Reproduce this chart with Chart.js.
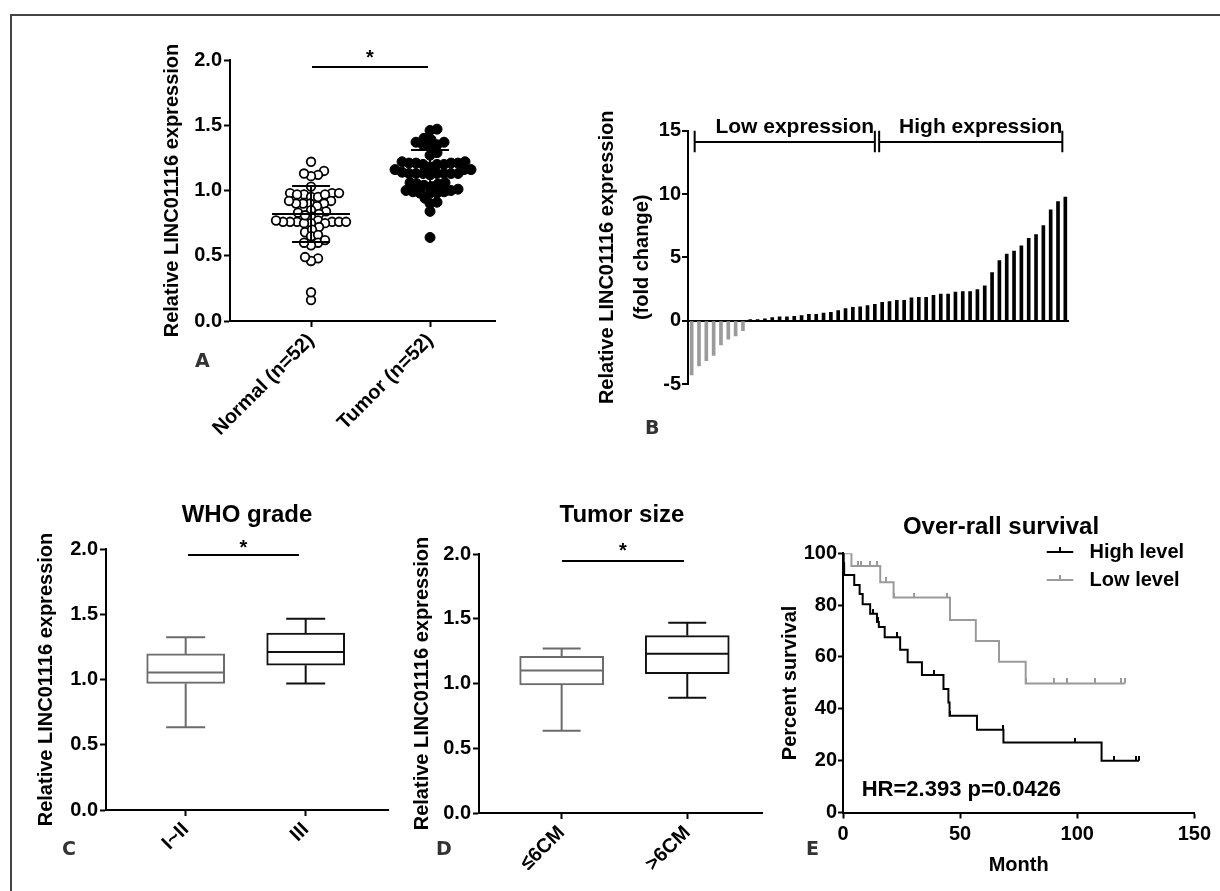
<!DOCTYPE html>
<html>
<head>
<meta charset="utf-8">
<script src="https://cdn.jsdelivr.net/npm/chart.js@4.4.0/dist/chart.umd.min.js"></script>
<style>
  body { margin: 0; width: 1220px; height: 891px; overflow: hidden; position: relative; background: #fff;
         font-family: 'Liberation Sans', Arial, sans-serif; }
  .frame { position: absolute; left: 10px; top: 14px; width: 1230px; height: 900px;
           border-left: 2px solid #444; border-top: 2px solid #444; }
  canvas { position: absolute; }
  .title { position: absolute; font-weight: bold; font-size: 24px; line-height: 1; white-space: nowrap;
           transform: translate(-50%, -50%); }
  .tag { position: absolute; font-family: 'DejaVu Sans', sans-serif; font-weight: bold; font-size: 19px; line-height: 1; color: #333; }
</style>
</head>
<body>
<div class="frame"></div>

<canvas id="chartA" width="355" height="420" style="left:150px;top:30px"></canvas>
<canvas id="chartB" width="485" height="360" style="left:590px;top:80px"></canvas>
<canvas id="chartC" width="374" height="380" style="left:24px;top:490px"></canvas>
<canvas id="chartD" width="372" height="380" style="left:400px;top:490px"></canvas>
<canvas id="chartE" width="447" height="390" style="left:768px;top:490px"></canvas>

<div class="title" style="left:247px;top:514px">WHO grade</div>
<div class="title" style="left:622px;top:514px">Tumor size</div>
<div class="title" style="left:1001px;top:526px">Over-rall survival</div>

<div class="tag" style="left:195px;top:351px">A</div>
<div class="tag" style="left:645px;top:418px">B</div>
<div class="tag" style="left:62px;top:839px">C</div>
<div class="tag" style="left:436px;top:839px">D</div>
<div class="tag" style="left:806px;top:839px">E</div>

<script>
// ---- panel A: scatter of relative expression
const groupsA = ['Normal (n=52)', 'Tumor (n=52)'];
const normalVals = [1.22, 1.15, 1.12, 1.11, 1.13, 1.03,
  0.97, 0.95, 0.98, 0.98, 0.98, 0.95, 0.97, 0.97,
  0.92, 0.90, 0.90, 0.90, 0.90, 0.92, 0.88,
  0.85, 0.83, 0.84, 0.80, 0.82,
  0.77, 0.76, 0.75, 0.76, 0.75, 0.76, 0.76, 0.75, 0.76, 0.76, 0.77,
  0.72, 0.68, 0.70, 0.65, 0.66, 0.60, 0.58, 0.60, 0.62,
  0.48, 0.46, 0.49, 0.16, 0.22, 0.81];
const tumorVals = [1.47, 1.46, 1.40, 1.39, 1.37, 1.35, 1.34, 1.35, 1.37, 1.29, 1.27,
  1.20, 1.21, 1.21, 1.20, 1.22, 1.21, 1.20, 1.21, 1.22,
  1.13, 1.13, 1.14, 1.12, 1.13, 1.13, 1.13, 1.13, 1.13, 1.16, 1.16, 1.16,
  1.06, 1.05, 1.05, 1.06, 1.03, 1.04,
  1.00, 0.98, 0.98, 0.98, 0.99, 0.99, 1.00, 1.01,
  0.90, 0.91, 0.94, 0.84, 0.64, 1.18];
const meanA = [0.82, 1.14];
const sdA = [0.215, 0.17];

// ---- panel B: fold change per sample (sorted)
const foldChange = [-4.29, -3.58, -3.16, -2.74, -1.92, -1.47, -1.21, -0.79,
  0.03, 0.05, 0.15, 0.25, 0.3, 0.3, 0.35, 0.4, 0.5, 0.5, 0.6, 0.65, 0.8, 0.95, 1.05, 1.1, 1.2, 1.3,
  1.45, 1.5, 1.6, 1.6, 1.8, 1.85, 1.85, 2.0, 2.1, 2.1, 2.25, 2.3, 2.3, 2.45, 2.75,
  3.8, 4.75, 5.25, 5.5, 5.9, 6.5, 6.8, 7.5, 8.75, 9.4, 9.75];
const samplesB = foldChange.map((v, i) => 'S' + (i + 1));
const lowRange = [0, 25];
const highRange = [26, 51];

// ---- panel C: WHO grade box plot
const gradeGroups = ['I~II', 'III'];
const gradeMin = [0.635, 0.97];
const gradeQ1 = [0.97, 1.11];
const gradeMed = [1.054, 1.21];
const gradeQ3 = [1.196, 1.355];
const gradeMax = [1.324, 1.465];

// ---- panel D: tumor size box plot
const sizeGroups = ['≤6CM', '>6CM'];
const sizeMin = [0.635, 0.89];
const sizeQ1 = [0.99, 1.075];
const sizeMed = [1.10, 1.23];
const sizeQ3 = [1.21, 1.37];
const sizeMax = [1.27, 1.47];

// ---- panel E: Kaplan-Meier
const highTimes = [0, 0.3, 0.5, 4.8, 7.1, 8.4, 11.6, 14.5, 15.3, 17.8, 24.4, 27.6, 33.7, 42.9, 45.0, 45.5, 57.2, 68.5, 110.4, 126.4];
const highSurv = [100, 96.2, 91.6, 87.8, 84.3, 80.3, 76.7, 73.5, 71.6, 67.6, 62.8, 58.0, 53.0, 47.6, 42.4, 37.3, 31.9, 27.0, 20.0, 20.0];
const highCensor = [13.0, 15.0, 23.0, 38.9, 45.7, 68.2, 99.0, 115.8, 125.3, 126.4];
const lowTimes = [0, 3.6, 15.9, 21.6, 45.7, 56.7, 66.6, 78.0, 120.3];
const lowSurv = [100, 95.1, 88.8, 82.9, 74.3, 66.2, 58.2, 49.8, 49.8];
const lowCensor = [1.0, 1.5, 2.0, 6.3, 7.7, 11.6, 14.5, 18.5, 21.9, 30.5, 44.6, 78.0, 90.0, 95.5, 107.5, 118.9, 120.3];

const FONT = "'Liberation Sans', Arial, sans-serif";
Chart.defaults.font.family = FONT;
Chart.defaults.font.size = 20;
Chart.defaults.font.weight = 'bold';
Chart.defaults.color = '#000';
Chart.defaults.animation = false;
Chart.defaults.plugins.legend.display = false;
Chart.defaults.plugins.tooltip.enabled = false;

const tickGrid = () => ({ drawOnChartArea: false, tickLength: 6, tickColor: '#000', tickWidth: 2 });
const blackBorder = () => ({ color: '#000', width: 2 });

// simple beeswarm: push each point sideways until it no longer overlaps
function swarmX(vals, center) {
  const pxX = 119, pxY = 130.5, d = 6.6;
  const order = vals.map((v, i) => i).sort((a, b) => vals[a] - vals[b]);
  const placed = [];
  const xs = [];
  order.forEach(i => {
    const py = vals[i] * pxY;
    let off = 0;
    for (let k = 0; k < 400; k++) {
      const cand = (k % 2 === 1 ? 1 : -1) * Math.ceil(k / 2);
      if (placed.every(p => (p.x - cand) ** 2 + (p.y - py) ** 2 >= d * d)) { off = cand; break; }
    }
    placed.push({ x: off, y: py });
    xs[i] = center + off / pxX;
  });
  return xs;
}

function sigPlugin(x1, x2, yLine, yStar) {
  return {
    id: 'sig',
    afterDraw(chart) {
      const { ctx, scales: { x, y } } = chart;
      const a = x.getPixelForValue(x1), b = x.getPixelForValue(x2), ly = y.getPixelForValue(yLine);
      ctx.save();
      ctx.strokeStyle = '#000';
      ctx.lineWidth = 2;
      ctx.beginPath(); ctx.moveTo(a, ly); ctx.lineTo(b, ly); ctx.stroke();
      ctx.font = 'bold 20px ' + FONT;
      ctx.fillStyle = '#000';
      ctx.textAlign = 'center';
      ctx.textBaseline = 'alphabetic';
      ctx.fillText('*', (a + b) / 2, y.getPixelForValue(yStar) + 11);
      ctx.restore();
    }
  };
}

// ---------- A
const normalX = swarmX(normalVals, 1);
const tumorX = swarmX(tumorVals, 2);

const meanSdPlugin = {
  id: 'meanSd',
  afterDatasetsDraw(chart) {
    const { ctx, scales: { x, y } } = chart;
    ctx.save();
    ctx.strokeStyle = '#000';
    ctx.lineWidth = 2;
    meanA.forEach((m, i) => {
      const cx = x.getPixelForValue(i + 1);
      const ym = y.getPixelForValue(m), yt = y.getPixelForValue(m + sdA[i]), yb = y.getPixelForValue(m - sdA[i]);
      ctx.beginPath();
      ctx.moveTo(cx - 39, ym); ctx.lineTo(cx + 39, ym);
      ctx.moveTo(cx, yt); ctx.lineTo(cx, yb);
      ctx.moveTo(cx - 19, yt); ctx.lineTo(cx + 19, yt);
      ctx.moveTo(cx - 19, yb); ctx.lineTo(cx + 19, yb);
      ctx.stroke();
    });
    ctx.restore();
  }
};

new Chart(document.getElementById('chartA'), {
  type: 'scatter',
  data: {
    datasets: [
      { data: normalVals.map((v, i) => ({ x: normalX[i], y: v })), pointRadius: 4.3, pointBorderWidth: 1.8,
        pointBorderColor: '#000', pointBackgroundColor: '#fff' },
      { data: tumorVals.map((v, i) => ({ x: tumorX[i], y: v })), pointRadius: 5, pointBorderWidth: 1,
        pointBorderColor: '#000', pointBackgroundColor: '#000' }
    ]
  },
  options: {
    responsive: false,
    layout: { padding: { left: 0, top: 30, right: 10, bottom: 0 } },
    scales: {
      x: {
        type: 'linear', min: 0.319, max: 2.546,
        afterBuildTicks: s => { s.ticks = [{ value: 1 }, { value: 2 }]; },
        ticks: { callback: v => groupsA[Math.round(v) - 1], minRotation: 45, maxRotation: 45, autoSkip: false, padding: 2 },
        grid: tickGrid(), border: blackBorder(),
        afterFit: s => { s.height = 129; }
      },
      y: {
        min: 0, max: 2,
        ticks: { stepSize: 0.5, callback: v => v.toFixed(1), padding: 2 },
        grid: tickGrid(), border: blackBorder(),
        title: { display: true, text: 'Relative LINC01116 expression', padding: { top: 10, bottom: 0 },
                 font: { size: 20, weight: 'bold', lineHeight: 1.2 } },
        afterFit: s => { s.width = 80; }
      }
    }
  },
  plugins: [meanSdPlugin, sigPlugin(1.008, 1.983, 1.946, 2.054)]
});

// ---------- B
const bracketPlugin = {
  id: 'brackets',
  afterDraw(chart) {
    const { ctx, scales: { x, y } } = chart;
    const yl = y.getPixelForValue(14.1), yTop = y.getPixelForValue(15), yBot = y.getPixelForValue(13.3);
    const yText = y.getPixelForValue(15.3);
    ctx.save();
    ctx.strokeStyle = '#000';
    ctx.lineWidth = 2;
    ctx.fillStyle = '#000';
    ctx.font = 'bold 21px ' + FONT;
    ctx.textAlign = 'center';
    ctx.textBaseline = 'middle';
    [[lowRange, 'Low expression', 3, 0], [highRange, 'High expression', -3, -3]].forEach(([r, label, dl, dr]) => {
      const a = x.getPixelForValue(r[0]) + dl, b = x.getPixelForValue(r[1]) + dr;
      ctx.beginPath();
      ctx.moveTo(a, yTop); ctx.lineTo(a, yBot);
      ctx.moveTo(b, yTop); ctx.lineTo(b, yBot);
      ctx.moveTo(a, yl); ctx.lineTo(b, yl);
      ctx.stroke();
      ctx.fillText(label, (a + b) / 2 + 10, yText);
    });
    ctx.restore();
  }
};

new Chart(document.getElementById('chartB'), {
  type: 'bar',
  data: {
    labels: samplesB,
    datasets: [{ data: foldChange, backgroundColor: foldChange.map(v => v < 0 ? '#9b9b9b' : '#000'), barThickness: 3 }]
  },
  options: {
    responsive: false,
    layout: { padding: { left: 0, top: 50.7, right: 6, bottom: 56 } },
    scales: {
      x: { display: false },
      y: {
        min: -5, max: 15,
        ticks: { stepSize: 5, padding: 1 },
        grid: { color: c => c.tick && c.tick.value === 0 ? '#000' : 'rgba(0,0,0,0)', lineWidth: 2,
                tickLength: 6, tickColor: '#000', tickWidth: 2 },
        border: blackBorder(),
        title: { display: true, text: ['Relative LINC01116 expression', '(fold change)'], padding: { top: 0, bottom: 0 },
                 font: { size: 20, weight: 'bold', lineHeight: 1.75 } },
        afterFit: s => { s.width = 98; }
      }
    }
  },
  plugins: [bracketPlugin]
});

// ---------- C and D: box plots
function boxPlugin(mins, meds, maxs, colors, boxW, capW) {
  return {
    id: 'whiskers',
    afterDatasetsDraw(chart) {
      const { ctx, scales: { x, y } } = chart;
      const q1s = chart.data.datasets[0].data.map(d => d.y[0]);
      const q3s = chart.data.datasets[0].data.map(d => d.y[1]);
      ctx.save();
      ctx.lineWidth = 2;
      mins.forEach((mn, i) => {
        const cx = x.getPixelForValue(i + 1);
        const pMin = y.getPixelForValue(mn), pMax = y.getPixelForValue(maxs[i]);
        const pQ1 = y.getPixelForValue(q1s[i]), pQ3 = y.getPixelForValue(q3s[i]), pMed = y.getPixelForValue(meds[i]);
        ctx.strokeStyle = colors[i];
        ctx.beginPath();
        ctx.moveTo(cx, pQ1); ctx.lineTo(cx, pMin);
        ctx.moveTo(cx, pQ3); ctx.lineTo(cx, pMax);
        ctx.moveTo(cx - capW / 2, pMin); ctx.lineTo(cx + capW / 2, pMin);
        ctx.moveTo(cx - capW / 2, pMax); ctx.lineTo(cx + capW / 2, pMax);
        ctx.moveTo(cx - boxW / 2 + 1, pMed); ctx.lineTo(cx + boxW / 2 - 1, pMed);
        ctx.stroke();
      });
      ctx.restore();
    }
  };
}

function boxChart(id, groups, mins, q1s, meds, q3s, maxs, opt) {
  const colors = ['#6b6b6b', '#111'];
  new Chart(document.getElementById(id), {
    type: 'bar',
    data: {
      datasets: [{
        data: q1s.map((q, i) => ({ x: i + 1, y: [q, q3s[i]] })),
        backgroundColor: '#fff', borderColor: colors, borderWidth: 2, borderSkipped: false,
        barThickness: opt.boxW
      }]
    },
    options: {
      responsive: false,
      layout: { padding: { left: 0, top: opt.top, right: 10, bottom: 0 } },
      scales: {
        x: {
          type: 'linear', min: opt.xmin, max: opt.xmax, offset: false,
          afterBuildTicks: s => { s.ticks = [{ value: 1 }, { value: 2 }]; },
          ticks: { callback: v => groups[Math.round(v) - 1], minRotation: 45, maxRotation: 45, autoSkip: false, padding: 2 },
          grid: Object.assign(tickGrid(), { offset: false }), border: blackBorder(),
          afterFit: s => { s.height = opt.xh; }
        },
        y: {
          min: 0, max: 2,
          ticks: { stepSize: 0.5, callback: v => v.toFixed(1), padding: 2 },
          grid: tickGrid(), border: blackBorder(),
          title: { display: true, text: 'Relative LINC01116 expression', padding: { top: 10, bottom: 0 },
                   font: { size: 20, weight: 'bold', lineHeight: 1.2 } },
          afterFit: s => { s.width = opt.yw; }
        }
      }
    },
    plugins: [boxPlugin(mins, meds, maxs, colors, opt.boxW, opt.capW), sigPlugin(opt.sig[0], opt.sig[1], opt.sig[2], opt.sig[3])]
  });
}

boxChart('chartC', gradeGroups, gradeMin, gradeQ1, gradeMed, gradeQ3, gradeMax,
  { top: 59, xmin: 0.336, xmax: 2.686, xh: 60, yw: 82, boxW: 78, capW: 39, sig: [1.019, 1.944, 1.954, 2.046] });
boxChart('chartD', sizeGroups, sizeMin, sizeQ1, sizeMed, sizeQ3, sizeMax,
  { top: 64, xmin: 0.342, xmax: 2.595, xh: 57, yw: 79, boxW: 84, capW: 38, sig: [1.003, 1.974, 1.946, 2.058] });

// ---------- E: survival
function survivalAt(times, surv, t) {
  let s = surv[0];
  times.forEach((tt, i) => { if (tt <= t) s = surv[i]; });
  return s;
}
function tickMark(color) {
  const c = document.createElement('canvas');
  c.width = 2; c.height = 10;
  const g = c.getContext('2d');
  g.fillStyle = color;
  g.fillRect(0, 0, 2, 5);
  return c;
}
const highColor = '#000', lowColor = '#9a9a9a';

const kmLabelsPlugin = {
  id: 'kmLabels',
  afterDraw(chart) {
    const { ctx, scales: { x, y } } = chart;
    ctx.save();
    ctx.lineWidth = 2;
    ctx.font = 'bold 20px ' + FONT;
    ctx.textBaseline = 'middle';
    ctx.textAlign = 'left';
    [['High level', highColor, 100.5], ['Low level', lowColor, 89.7]].forEach(([label, col, yv]) => {
      const py = y.getPixelForValue(yv), a = x.getPixelForValue(87), b = x.getPixelForValue(98.3);
      ctx.strokeStyle = col;
      ctx.beginPath();
      ctx.moveTo(a, py); ctx.lineTo(b, py);
      ctx.moveTo((a + b) / 2, py); ctx.lineTo((a + b) / 2, py - 5);
      ctx.stroke();
      ctx.fillStyle = '#000';
      ctx.fillText(label, x.getPixelForValue(105.3), py);
    });
    ctx.font = 'bold 22px ' + FONT;
    ctx.fillText('HR=2.393 p=0.0426', x.getPixelForValue(8), y.getPixelForValue(8.6));
    ctx.restore();
  }
};

new Chart(document.getElementById('chartE'), {
  type: 'scatter',
  data: {
    datasets: [
      { data: highTimes.map((t, i) => ({ x: t, y: highSurv[i] })), showLine: true, stepped: true,
        borderColor: highColor, borderWidth: 2, pointRadius: 0 },
      { data: lowTimes.map((t, i) => ({ x: t, y: lowSurv[i] })), showLine: true, stepped: true,
        borderColor: lowColor, borderWidth: 2, pointRadius: 0 },
      { data: highCensor.map(t => ({ x: t, y: survivalAt(highTimes, highSurv, t) })),
        pointStyle: tickMark(highColor), pointRadius: 3 },
      { data: lowCensor.map(t => ({ x: t, y: survivalAt(lowTimes, lowSurv, t) })),
        pointStyle: tickMark(lowColor), pointRadius: 3 }
    ]
  },
  options: {
    responsive: false,
    layout: { padding: { left: 0, top: 63.3, right: 20, bottom: 0 } },
    scales: {
      x: {
        type: 'linear', min: 0, max: 150,
        ticks: { stepSize: 50, padding: 4 },
        grid: tickGrid(), border: blackBorder(),
        title: { display: true, text: 'Month', padding: { top: 0, bottom: 3 }, font: { size: 20, weight: 'bold', lineHeight: 1.2 } },
        afterFit: s => { s.height = 67.5; }
      },
      y: {
        min: 0, max: 100,
        ticks: { stepSize: 20, padding: 1 },
        grid: Object.assign(tickGrid(), { tickLength: 5 }), border: blackBorder(),
        title: { display: true, text: 'Percent survival', padding: { top: 10, bottom: 0 },
                 font: { size: 20, weight: 'bold', lineHeight: 1.2 } },
        afterFit: s => { s.width = 75; }
      }
    }
  },
  plugins: [kmLabelsPlugin]
});
</script>
</body>
</html>
